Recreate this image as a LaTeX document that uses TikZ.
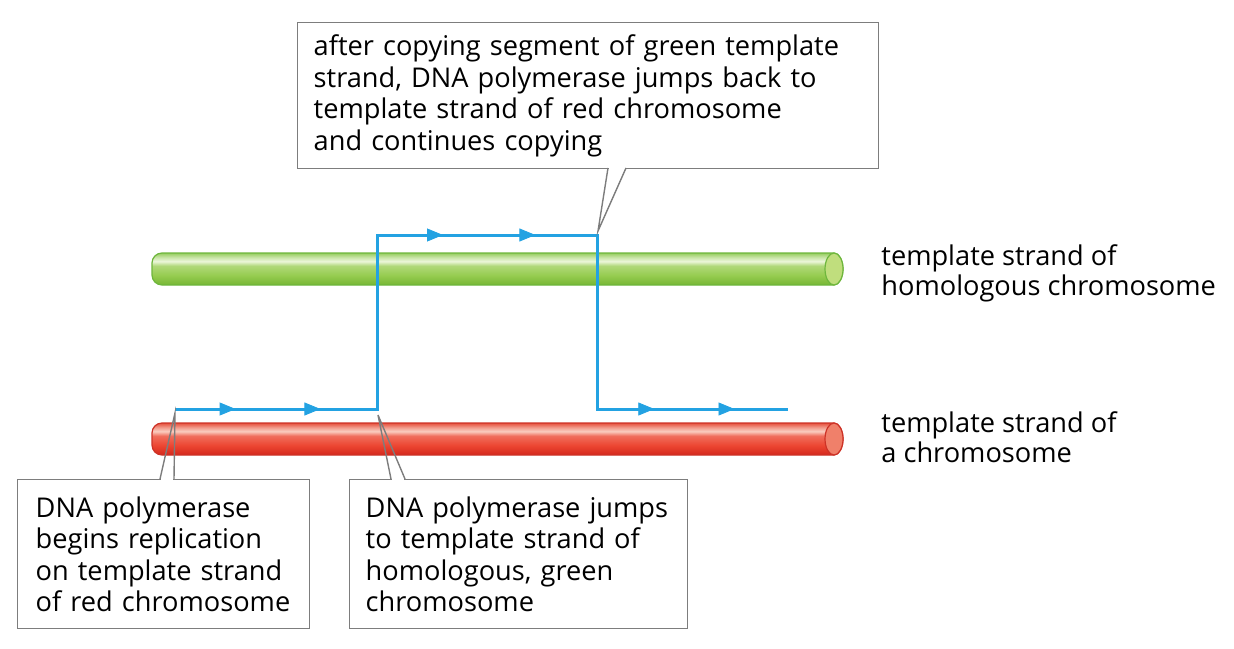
\documentclass[tikz,border=0pt]{standalone}
\usepackage{fontspec}
\setmainfont{Open Sans}
\usetikzlibrary{positioning,calc,arrows.meta,decorations.markings}

\definecolor{copyblue}{RGB}{35,162,226}
\definecolor{boxgray}{RGB}{125,125,125}
\definecolor{gline}{RGB}{110,182,60}
\definecolor{gtop}{RGB}{150,205,95}
\definecolor{glight}{RGB}{236,246,218}
\definecolor{gbody}{RGB}{150,204,80}
\definecolor{gbot}{RGB}{118,182,52}
\definecolor{gcap}{RGB}{192,222,125}
\definecolor{rline}{RGB}{205,50,38}
\definecolor{rtop}{RGB}{230,80,60}
\definecolor{rlight}{RGB}{250,205,192}
\definecolor{rbody}{RGB}{236,70,50}
\definecolor{rbot}{RGB}{212,40,28}
\definecolor{rcap}{RGB}{240,128,106}

\pgfdeclareverticalshading{greentube}{100bp}{color(0bp)=(gbot); color(25bp)=(gbot); color(40bp)=(gbody); color(55bp)=(gbody!70!glight); color(62bp)=(glight); color(68bp)=(glight!60!gtop); color(75bp)=(gtop); color(100bp)=(gtop)}
\pgfdeclareverticalshading{redtube}{100bp}{color(0bp)=(rbot); color(25bp)=(rbot); color(40bp)=(rbody); color(55bp)=(rbody!70!rlight); color(62bp)=(rlight); color(68bp)=(rlight!60!rtop); color(75bp)=(rtop); color(100bp)=(rtop)}

\newcommand{\notefont}{\fontsize{13.6}{15.75}\selectfont}

\begin{document}
\begin{tikzpicture}[
    x=0.5pt, y=-0.5pt,
    callbox/.style={draw=boxgray, line width=0.7pt, fill=white, inner xsep=8pt, inner ysep=0pt, align=left, font=\notefont, anchor=north west},
    pointer/.style={draw=boxgray, line width=0.7pt, line join=miter},
    strandlabel/.style={align=left, font=\notefont, anchor=base west, inner sep=0pt},
    copyline/.style={draw=copyblue, line width=1.5pt},
    fwd/.style={postaction={decorate}, decoration={markings,
        mark=at position 0.30 with {\arrow[copyblue]{Triangle[length=8pt,width=6.5pt]}},
        mark=at position 0.72 with {\arrow[copyblue]{Triangle[length=8pt,width=6.5pt]}}}}
]
    \useasboundingbox (0,0) rectangle (1234,648);

    % green template strand
    \shade[shading=greentube] (834,253) arc[start angle=-90, end angle=90, x radius=9, y radius=16]
        -- (162,285) arc[start angle=90, end angle=180, radius=10] -- (152,263)
        arc[start angle=180, end angle=270, radius=10] -- cycle;
    \draw[gline, line width=0.6pt] (834,253) arc[start angle=-90, end angle=90, x radius=9, y radius=16]
        -- (162,285) arc[start angle=90, end angle=180, radius=10] -- (152,263)
        arc[start angle=180, end angle=270, radius=10] -- cycle;
    \filldraw[fill=gcap, draw=gline, line width=0.6pt] (834,269) ellipse [x radius=9, y radius=16];

    % red template strand
    \shade[shading=redtube] (834,423) arc[start angle=-90, end angle=90, x radius=9, y radius=16]
        -- (162,455) arc[start angle=90, end angle=180, radius=10] -- (152,433)
        arc[start angle=180, end angle=270, radius=10] -- cycle;
    \draw[rline, line width=0.6pt] (834,423) arc[start angle=-90, end angle=90, x radius=9, y radius=16]
        -- (162,455) arc[start angle=90, end angle=180, radius=10] -- (152,433)
        arc[start angle=180, end angle=270, radius=10] -- cycle;
    \filldraw[fill=rcap, draw=rline, line width=0.6pt] (834,439) ellipse [x radius=9, y radius=16];

    % new strand
    \coordinate (s0) at (175,409);
    \coordinate (s1) at (377,409);
    \coordinate (s2) at (377,235);
    \coordinate (s3) at (597,235);
    \coordinate (s4) at (597,409);
    \coordinate (s5) at (788,409);
    \draw[copyline] (s0) -- (s1) -- (s2) -- (s3) -- (s4) -- (s5);
    \path[fwd] (s0) -- (s1);
    \path[fwd] (s2) -- (s3);
    \path[fwd] (s4) -- (s5);

    \node[strandlabel] (homLabel) at (881,295) {template strand of\\[-0.75pt]homologous chromosome};
    \node[strandlabel] (chrLabel) at (881,462) {template strand of\\[-0.75pt]a chromosome};

    % callouts
    \node[callbox, text width=274.5pt, minimum height=73pt] (backNote) at (297,22)
        {after copying segment of green template\\strand, DNA polymerase jumps back to\\template strand of red chromosome\\and continues copying};
    \node[callbox, inner xsep=9pt, text width=128pt, minimum height=74.5pt] (beginNote) at (17,479)
        {DNA polymerase\\begins replication\\on template strand\\of~red~chromosome};
    \node[callbox, text width=153pt, minimum height=74.5pt] (jumpNote) at (349,479)
        {DNA~polymerase~jumps\\to template strand of\\homologous, green\\chromosome};

    \coordinate (backA) at (608,168);
    \coordinate (backB) at (626,168);
    \coordinate (backTip) at (598,231);
    \fill[white] ($(backA)+(1,-1.5)$) rectangle ($(backB)+(-1,1.5)$);
    \draw[pointer] (backA) -- (backTip) -- (backB);

    \coordinate (beginA) at (160,479);
    \coordinate (beginB) at (174,479);
    \coordinate (beginTip) at (175,413);
    \fill[white] ($(beginA)+(1,1.5)$) rectangle ($(beginB)+(-1,-1.5)$);
    \draw[pointer] (beginA) -- (beginTip) -- (beginB);

    \coordinate (jumpA) at (391,479);
    \coordinate (jumpB) at (405,479);
    \coordinate (jumpTip) at (378,415);
    \fill[white] ($(jumpA)+(1,1.5)$) rectangle ($(jumpB)+(-1,-1.5)$);
    \draw[pointer] (jumpA) -- (jumpTip) -- (jumpB);
\end{tikzpicture}
\end{document}
